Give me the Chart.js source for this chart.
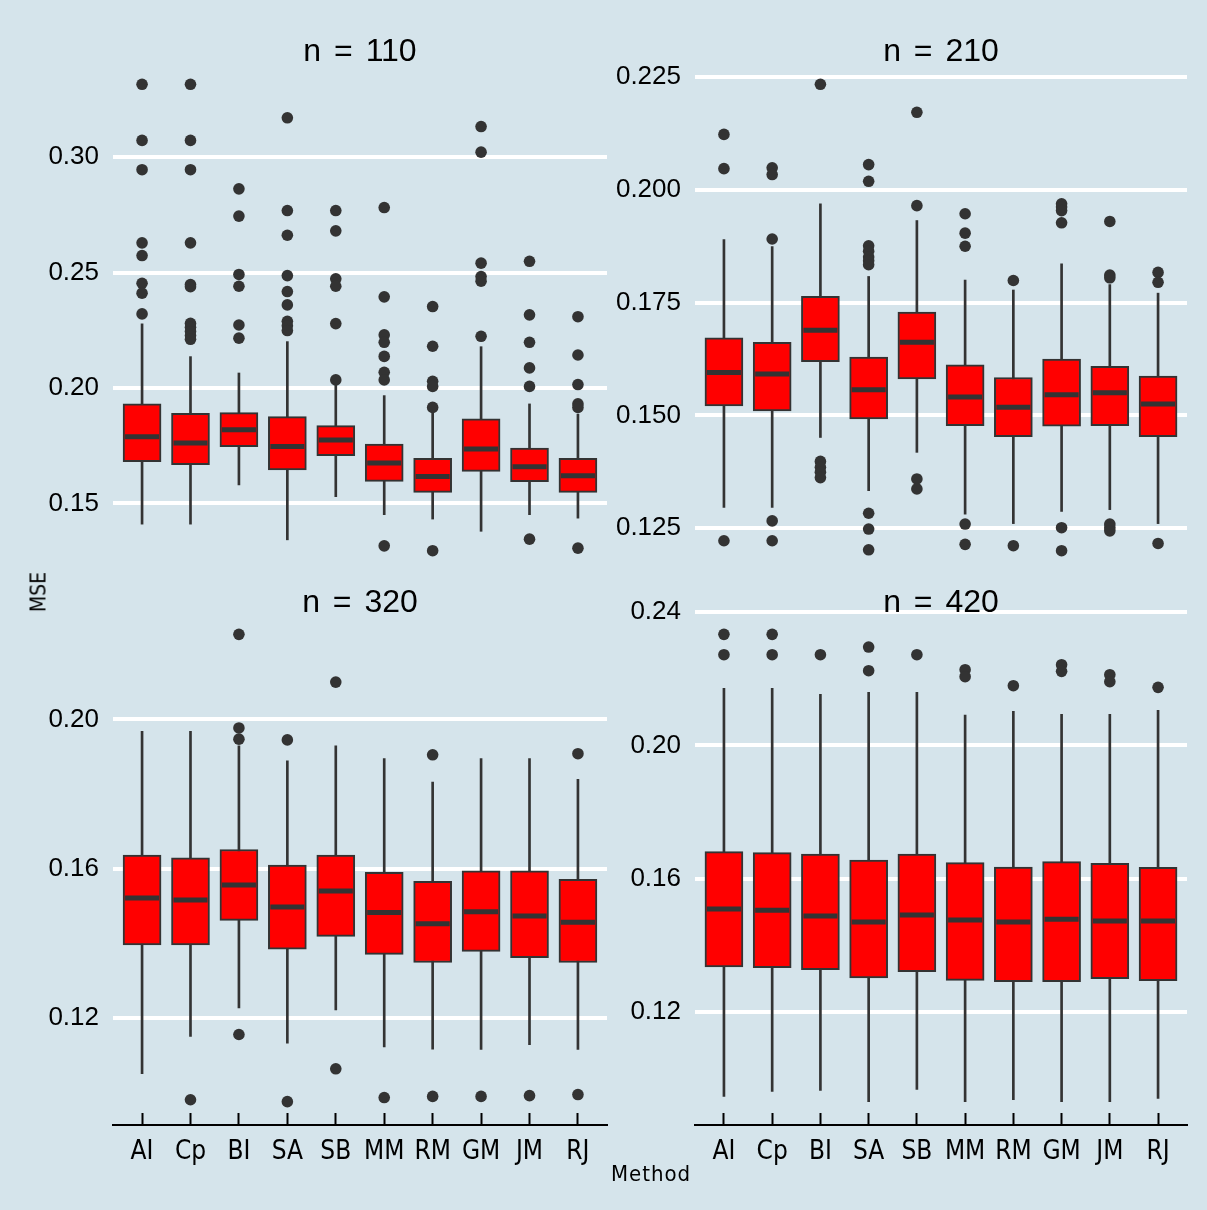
<!DOCTYPE html>
<html>
<head>
<meta charset="utf-8">
<script src="https://cdn.jsdelivr.net/npm/chart.js@4.4.1/dist/chart.umd.min.js"></script>
<style>
  body { margin: 0; background: #d5e4eb; }
  #wrap { position: relative; width: 1207px; height: 1210px; background: #d5e4eb; overflow: hidden; }
  canvas { position: absolute; }
  .title { position: absolute; font-family: 'Liberation Sans', Arial, sans-serif; font-size: 32px; word-spacing: 4px;
           color: #000; transform: translate(-50%, -50%); white-space: pre; line-height: 1; z-index: 2; }
  #ylab { position: absolute; left: 39px; top: 592px; font-family: 'Liberation Sans Narrow', 'DejaVu Sans Condensed', sans-serif;
          font-size: 21px; color: #000; transform: translate(-50%, -50%) rotate(-90deg); line-height: 1; }
  #xlab { position: absolute; left: 651px; top: 1174px; font-family: 'Liberation Sans Narrow', 'DejaVu Sans Condensed', sans-serif;
          font-size: 22px; letter-spacing: 1px; color: #000; transform: translate(-50%, -50%); line-height: 1; }
</style>
</head>
<body>
<div id="wrap">
  <canvas id="c110" width="640" height="610" style="left:0;top:0"></canvas>
  <canvas id="c210" width="630" height="610" style="left:600px;top:0"></canvas>
  <canvas id="c320" width="640" height="640" style="left:0;top:570px"></canvas>
  <canvas id="c420" width="630" height="640" style="left:600px;top:570px"></canvas>
  <div class="title" style="left:360px;top:50px">n = 110</div>
  <div class="title" style="left:941px;top:50px">n = 210</div>
  <div class="title" style="left:360px;top:601px">n = 320</div>
  <div class="title" style="left:941px;top:601px">n = 420</div>
  <div id="ylab">MSE</div>
  <div id="xlab">Method</div>
</div>
<script>
const methods = ['AI', 'Cp', 'BI', 'SA', 'SB', 'MM', 'RM', 'GM', 'JM', 'RJ'];

// n = 110
const q1N110 = [0.1681, 0.1668, 0.1746, 0.1645, 0.1707, 0.1595, 0.1548, 0.1639, 0.1594, 0.1548];
const medN110 = [0.1789, 0.1762, 0.1819, 0.1746, 0.1775, 0.1675, 0.1616, 0.1736, 0.1659, 0.1620];
const q3N110 = [0.1931, 0.1890, 0.1893, 0.1876, 0.1837, 0.1757, 0.1695, 0.1866, 0.1740, 0.1695];
const loN110 = [0.1410, 0.1410, 0.1580, 0.1342, 0.1529, 0.1451, 0.1432, 0.1379, 0.1451, 0.1436];
const hiN110 = [0.2278, 0.2136, 0.2065, 0.2201, 0.2017, 0.1967, 0.1895, 0.2179, 0.1931, 0.1887];
const outN110 = [
    [0.3316, 0.3073, 0.2946, 0.2629, 0.2574, 0.2454, 0.2411, 0.2321],
    [0.3316, 0.3073, 0.2946, 0.2629, 0.2448, 0.2439, 0.2280, 0.2263, 0.2245, 0.2227, 0.2211],
    [0.2863, 0.2745, 0.2492, 0.2441, 0.2273, 0.2216],
    [0.3171, 0.2769, 0.2662, 0.2487, 0.2418, 0.2360, 0.2289, 0.2270, 0.2249],
    [0.2769, 0.2681, 0.2473, 0.2441, 0.2279, 0.2035],
    [0.2782, 0.2395, 0.2230, 0.2198, 0.2137, 0.2068, 0.2035, 0.1316],
    [0.2353, 0.2181, 0.2029, 0.2007, 0.1916, 0.1295],
    [0.3133, 0.3022, 0.2541, 0.2483, 0.2463, 0.2224],
    [0.2549, 0.2317, 0.2198, 0.2087, 0.2007, 0.1345],
    [0.2309, 0.2143, 0.2015, 0.1931, 0.1916, 0.1306]
];
const ticksN110 = [0.15, 0.20, 0.25, 0.30];

// n = 210
const q1N210 = [0.1521, 0.1510, 0.1619, 0.1492, 0.1581, 0.1477, 0.1453, 0.1476, 0.1477, 0.1453];
const medN210 = [0.1595, 0.1592, 0.1689, 0.1557, 0.1662, 0.1541, 0.1518, 0.1546, 0.1550, 0.1525];
const q3N210 = [0.1672, 0.1662, 0.1764, 0.1629, 0.1729, 0.1612, 0.1584, 0.1625, 0.1609, 0.1587];
const loN210 = [0.1296, 0.1296, 0.1451, 0.1333, 0.1418, 0.1281, 0.1260, 0.1287, 0.1291, 0.1260];
const hiN210 = [0.1890, 0.1874, 0.1969, 0.1808, 0.1932, 0.1800, 0.1778, 0.1836, 0.1790, 0.1771];
const outN210 = [
    [0.2123, 0.2047, 0.1222],
    [0.2049, 0.2034, 0.1891, 0.1266, 0.1222],
    [0.2234, 0.1398, 0.1385, 0.1374, 0.1362],
    [0.2056, 0.2019, 0.1876, 0.1864, 0.1851, 0.1843, 0.1834, 0.1283, 0.1248, 0.1202],
    [0.2172, 0.1965, 0.1359, 0.1337],
    [0.1947, 0.1904, 0.1875, 0.1259, 0.1214],
    [0.1799, 0.1211],
    [0.1969, 0.1962, 0.1954, 0.1927, 0.1251, 0.1200],
    [0.1930, 0.1811, 0.1805, 0.1259, 0.1251, 0.1244],
    [0.1817, 0.1795, 0.1216]
];
const ticksN210 = [0.125, 0.150, 0.175, 0.200, 0.225];

// n = 320
const q1N320 = [0.1395, 0.1395, 0.1461, 0.1384, 0.1418, 0.1370, 0.1348, 0.1378, 0.1361, 0.1348];
const medN320 = [0.1521, 0.1516, 0.1556, 0.1497, 0.1540, 0.1482, 0.1452, 0.1484, 0.1473, 0.1456];
const q3N320 = [0.1636, 0.1629, 0.1651, 0.1609, 0.1636, 0.1590, 0.1566, 0.1594, 0.1594, 0.1571];
const loN320 = [0.1050, 0.1150, 0.1226, 0.1132, 0.1221, 0.1122, 0.1116, 0.1115, 0.1128, 0.1115];
const hiN320 = [0.1968, 0.1968, 0.1929, 0.1889, 0.1929, 0.1895, 0.1832, 0.1895, 0.1895, 0.1839];
const outN320 = [
    [],
    [0.0980],
    [0.2228, 0.1977, 0.1947, 0.1155],
    [0.1945, 0.0975],
    [0.2100, 0.1063],
    [0.0986],
    [0.1905, 0.0989],
    [0.0989],
    [0.0991],
    [0.1908, 0.0994]
];
const ticksN320 = [0.12, 0.16, 0.20];

// n = 420
const q1N420 = [0.1335, 0.1333, 0.1327, 0.1302, 0.1321, 0.1295, 0.1291, 0.1291, 0.1300, 0.1294];
const medN420 = [0.1509, 0.1505, 0.1488, 0.1470, 0.1491, 0.1476, 0.1470, 0.1478, 0.1473, 0.1473];
const q3N420 = [0.1681, 0.1678, 0.1674, 0.1656, 0.1674, 0.1648, 0.1635, 0.1651, 0.1646, 0.1634];
const loN420 = [0.0947, 0.0962, 0.0965, 0.0931, 0.0968, 0.0931, 0.0937, 0.0931, 0.0931, 0.0941];
const hiN420 = [0.2171, 0.2171, 0.2153, 0.2159, 0.2159, 0.2091, 0.2102, 0.2093, 0.2093, 0.2105];
const outN420 = [
    [0.2333, 0.2272],
    [0.2333, 0.2272],
    [0.2272],
    [0.2295, 0.2224],
    [0.2272],
    [0.2227, 0.2206],
    [0.2179],
    [0.2242, 0.2222],
    [0.2212, 0.2191],
    [0.2174]
];
const ticksN420 = [0.12, 0.16, 0.20, 0.24];

const tickFont = "'Liberation Sans', Arial, sans-serif";
const catFont = "'Liberation Sans Narrow', 'DejaVu Sans Condensed', sans-serif";
const dark = '#333333';

function makePanel(id, q1, med, q3, lo, hi, out, yTicks, decimals, yWidth, padding, showX) {
    // ggplot style 5% expansion of the data range
    const all = lo.concat(hi, out.flat());
    const dMin = Math.min(...all);
    const dMax = Math.max(...all);
    const pad = (dMax - dMin) * 0.05;

    const outliers = [];
    out.forEach((vals, i) => vals.forEach(v => outliers.push({ x: i, y: v })));

    new Chart(document.getElementById(id), {
        type: 'bar',
        data: {
            datasets: [{
                type: 'scatter',
                data: outliers,
                pointRadius: 5.8,
                pointHoverRadius: 5.8,
                pointBackgroundColor: dark,
                pointBorderWidth: 0,
                order: 0
            }, {
                type: 'scatter',
                data: med.map((v, i) => ({ x: i, y: v })),
                pointStyle: 'line',
                pointRadius: 17,
                pointHoverRadius: 17,
                pointBorderColor: dark,
                pointBorderWidth: 5,
                order: 1
            }, {
                type: 'bar',
                data: q1.map((v, i) => ({ x: i, y: [v, q3[i]] })),
                backgroundColor: '#ff0000',
                borderColor: dark,
                borderWidth: 2,
                borderSkipped: false,
                barThickness: 38,
                grouped: false,
                order: 2
            }, {
                type: 'bar',
                data: lo.map((v, i) => ({ x: i, y: [v, hi[i]] })),
                backgroundColor: dark,
                borderWidth: 0,
                barThickness: 2,
                grouped: false,
                order: 3
            }]
        },
        options: {
            responsive: false,
            animation: false,
            events: [],
            layout: { padding: padding },
            plugins: { legend: { display: false }, tooltip: { enabled: false } },
            scales: {
                x: {
                    type: 'linear',
                    min: -0.6,
                    max: 9.6,
                    bounds: 'data',
                    offset: false,
                    display: showX,
                    afterBuildTicks: s => { s.ticks = methods.map((m, i) => ({ value: i })); },
                    afterFit: s => { s.height = showX ? 60 : 0; },
                    ticks: {
                        callback: v => methods[v],
                        autoSkip: false,
                        maxRotation: 0,
                        padding: 24,
                        color: '#000',
                        font: { family: catFont, size: 26 }
                    },
                    grid: {
                        offset: false,
                        drawOnChartArea: false,
                        drawTicks: true,
                        tickLength: -12,
                        tickWidth: 2,
                        tickColor: '#000'
                    },
                    border: { display: true, color: '#000', width: 2 }
                },
                y: {
                    type: 'linear',
                    min: dMin - pad,
                    max: dMax + pad,
                    bounds: 'data',
                    afterBuildTicks: s => { s.ticks = yTicks.map(v => ({ value: v })); },
                    afterFit: s => { s.width = yWidth; },
                    ticks: {
                        callback: v => v.toFixed(decimals),
                        padding: 14,
                        color: '#000',
                        font: { family: tickFont, size: 26 }
                    },
                    grid: { color: '#ffffff', lineWidth: 4, drawTicks: false },
                    border: { display: false }
                }
            }
        }
    });
}

makePanel('c110', q1N110, medN110, q3N110, loN110, hiN110, outN110, ticksN110, 2, 113,
    { top: 61, bottom: 36, left: 0, right: 33 }, false);
makePanel('c210', q1N210, medN210, q3N210, loN210, hiN210, outN210, ticksN210, 3, 95,
    { top: 61, bottom: 36, left: 0, right: 43 }, false);
makePanel('c320', q1N320, medN320, q3N320, loN320, hiN320, outN320, ticksN320, 2, 113,
    { top: 41, bottom: 25, left: 0, right: 33 }, true);
makePanel('c420', q1N420, medN420, q3N420, loN420, hiN420, outN420, ticksN420, 2, 95,
    { top: 41, bottom: 25, left: 0, right: 43 }, true);
</script>
</body>
</html>
